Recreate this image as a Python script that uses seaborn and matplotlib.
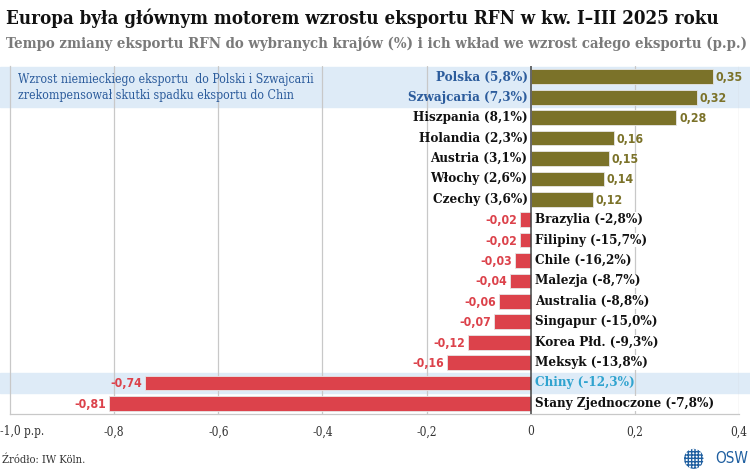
"""
Niemiecki eksport do wybranych krajów: wkład we wzrost całego eksportu (p.p.).
"""

import matplotlib
matplotlib.use("Agg")
import matplotlib.pyplot as plt
import matplotlib.transforms as mtransforms
from matplotlib.patches import Ellipse
import pandas as pd
import seaborn as sns

countries = ["Polska", "Szwajcaria", "Hiszpania", "Holandia", "Austria", "Włochy",
             "Czechy", "Brazylia", "Filipiny", "Chile", "Malezja", "Australia",
             "Singapur", "Korea Płd.", "Meksyk", "Chiny", "Stany Zjednoczone"]
growth = ["5,8", "7,3", "8,1", "2,3", "3,1", "2,6", "3,6", "-2,8", "-15,7", "-16,2",
          "-8,7", "-8,8", "-15,0", "-9,3", "-13,8", "-12,3", "-7,8"]
contribution = [0.35, 0.32, 0.28, 0.16, 0.15, 0.14, 0.12, -0.02, -0.02, -0.03,
                -0.04, -0.06, -0.07, -0.12, -0.16, -0.74, -0.81]
highlight_blue = ["Polska", "Szwajcaria"]
highlight_cyan = ["Chiny"]

x_ticks = [-1.0, -0.8, -0.6, -0.4, -0.2, 0, 0.2, 0.4]
x_ticklabels = ["-1,0 p.p.", "-0,8", "-0,6", "-0,4", "-0,2", "0", "0,2", "0,4"]

OLIVE = "#7b7229"
RED = "#dc424b"
BAND = "#deebf7"
DARK_BLUE = "#2c5c9c"
CYAN = "#2fa3cf"
GRID = "#c8c8c8"

sns.set_theme(style="white")
plt.rcParams["font.family"] = ["DejaVu Serif", "DejaVu Sans"]
plt.rcParams["font.stretch"] = "condensed"

df = pd.DataFrame({"kraj": countries, "wklad": contribution})
df["znak"] = ["plus" if v >= 0 else "minus" for v in contribution]

fig = plt.figure(figsize=(7.5, 4.75), dpi=100)
ax = fig.add_axes([0.0133, 0.128, 0.972, 0.733])

# pasy wyróżnienia na całą szerokość rysunku
band_tr = mtransforms.blended_transform_factory(fig.transFigure, ax.transData)
ax.add_patch(plt.Rectangle((0, -0.5), 1, 2, transform=band_tr, color=BAND,
                           clip_on=False, zorder=0))
i_ch = countries.index("Chiny")
ax.add_patch(plt.Rectangle((0, i_ch - 0.5), 1, 1, transform=band_tr, color=BAND,
                           clip_on=False, zorder=0))

sns.barplot(data=df, x="wklad", y="kraj", hue="znak", orient="h",
            palette={"plus": OLIVE, "minus": RED}, dodge=False, legend=False,
            saturation=1, width=0.72, edgecolor="#e6e6e6", linewidth=0.6,
            ax=ax, zorder=3)

ax.set_xlim(-1.0, 0.4)
ax.set_ylim(16.53, -0.53)
ax.set_xticks(x_ticks)
ax.set_xticklabels(x_ticklabels, fontsize=8.5, color="#333333")
ax.set_yticks([])
ax.set_xlabel("")
ax.set_ylabel("")
ax.tick_params(axis="x", length=0, pad=8)
ax.patch.set_alpha(0)
first = ax.get_xticklabels()[0]
first.set_horizontalalignment("left")
first.set_transform(first.get_transform() +
                    mtransforms.ScaledTranslation(-0.1, 0, fig.dpi_scale_trans))

for xv in [-0.8, -0.6, -0.4, -0.2, 0.2, 0.4]:
    ax.axvline(xv, color=GRID, lw=0.9, zorder=1)
ax.axvline(0, color="#444444", lw=1.1, zorder=4)

for side in ["top", "right"]:
    ax.spines[side].set_visible(False)
ax.spines["left"].set_color(GRID)
ax.spines["bottom"].set_color(GRID)
ax.spines["left"].set_linewidth(0.9)
ax.spines["bottom"].set_linewidth(0.9)

for i, (name, g, v) in enumerate(zip(countries, growth, contribution)):
    label = f"{name} ({g}%)"
    if name in highlight_blue:
        col = DARK_BLUE
    elif name in highlight_cyan:
        col = CYAN
    else:
        col = "#111111"
    val = f"{v:.2f}".replace(".", ",")
    if v >= 0:
        ax.text(-0.006, i, label, ha="right", va="center", fontsize=9.6,
                fontweight="bold", color=col, zorder=5)
        ax.text(v + 0.005, i + 0.05, val, ha="left", va="center", fontsize=8.8,
                fontweight="bold", color=OLIVE, zorder=5, family="DejaVu Sans")
    else:
        box = None
        if name not in highlight_cyan:
            box = dict(facecolor="white", edgecolor="none", pad=0.6)
        ax.text(0.008, i, label, ha="left", va="center", fontsize=9.6,
                fontweight="bold", color=col, zorder=5, bbox=box)
        ax.text(v - 0.006, i + 0.05, val, ha="right", va="center", fontsize=8.8,
                fontweight="bold", color=RED, zorder=5, family="DejaVu Sans")

ax.text(0.024, 0.5, "Wzrost niemieckiego eksportu  do Polski i Szwajcarii\n"
        "zrekompensował skutki spadku eksportu do Chin",
        transform=band_tr, ha="left", va="center", fontsize=8.8, color=DARK_BLUE,
        linespacing=1.3, zorder=5)

fig.text(0.008, 0.962, "Europa była głównym motorem wzrostu eksportu RFN w kw. I–III 2025 roku",
         ha="left", va="center", fontsize=13.4, fontweight="bold", color="#111111")
fig.text(0.008, 0.908, "Tempo zmiany eksportu RFN do wybranych krajów (%) i ich wkład we wzrost całego eksportu (p.p.)",
         ha="left", va="center", fontsize=10.75, fontweight="bold", color="#7a7a7a")
fig.text(0.003, 0.032, "Źródło: IW Köln.", ha="left", va="center", fontsize=8, color="#333333")

# logo OSW
fig.patches.append(Ellipse((0.925, 0.034), 0.026, 0.042, transform=fig.transFigure,
                           facecolor="white", edgecolor="#1f5fa0", hatch="+++++",
                           linewidth=0))
fig.text(0.997, 0.034, "OSW", ha="right", va="center", fontsize=11,
         color="#1f5fa0", family="DejaVu Sans", stretch="condensed")

fig.savefig("out.png", dpi=100)
